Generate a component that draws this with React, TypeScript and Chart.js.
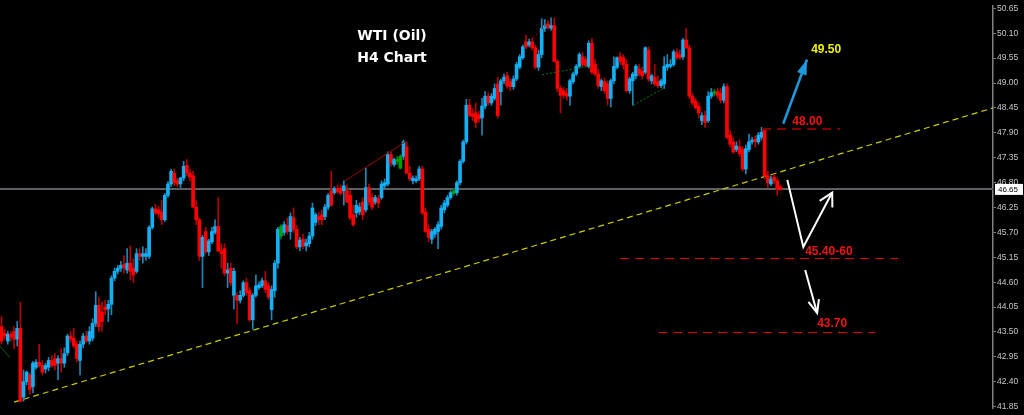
import React, { useEffect, useRef } from "react";
import { Chart, registerables } from "chart.js";
Chart.register(...registerables);

// ---- OHLC data (H4 candles) ----
const opens = [
  43.62, 43.47, 43.30, 43.45, 43.51, 43.34, 43.58, 42.06, 42.40, 42.55,
  42.29, 42.72, 42.83, 42.76, 42.68, 42.72, 42.87, 42.91, 42.81, 42.91,
  42.81, 43.04, 43.41, 43.36, 43.23, 42.87, 43.23, 43.41, 43.30, 43.36,
  43.69, 44.09, 43.94, 44.05, 44.01, 44.11, 44.69, 44.84, 44.91, 44.99,
  44.87, 45.02, 44.91, 44.84, 45.23, 45.17, 45.17, 45.17, 45.81, 46.22,
  46.20, 46.15, 45.98, 46.52, 46.77, 47.01, 46.84, 46.77, 46.90, 47.18,
  47.01, 46.95, 46.26, 45.98, 45.17, 45.72, 45.27, 45.49, 45.70, 45.83,
  45.29, 45.34, 44.80, 44.91, 44.31, 44.31, 44.20, 44.31, 44.59, 44.41,
  43.77, 44.31, 44.48, 44.52, 44.63, 44.52, 43.99, 44.41, 45.02, 45.62,
  45.70, 45.85, 45.72, 46.02, 45.77, 45.38, 45.55, 45.40, 45.45, 45.62,
  45.92, 46.05, 46.09, 46.05, 46.26, 46.62, 46.58, 46.67, 46.67, 46.62,
  46.62, 46.52, 46.09, 46.13, 46.15, 46.37, 46.20, 46.69, 46.47, 46.37,
  46.45, 46.47, 46.73, 46.77, 47.42, 47.20, 47.27, 47.12, 47.38, 47.59,
  47.01, 46.84, 46.84, 46.88, 47.10, 46.15, 45.77, 45.55, 45.66, 45.72,
  45.83, 46.20, 46.30, 46.47, 46.56, 46.58, 46.80, 47.27, 47.70, 48.51,
  48.32, 48.34, 48.30, 48.23, 48.49, 48.71, 48.56, 48.66, 48.98, 48.81,
  49.05, 49.16, 49.03, 48.92, 49.09, 49.35, 49.56, 49.91, 49.84, 49.91,
  49.78, 49.35, 49.63, 50.21, 50.31, 50.21, 50.27, 49.48, 48.88, 48.83,
  48.77, 48.71, 49.03, 49.20, 49.37, 49.58, 49.52, 49.37, 49.88, 49.41,
  49.20, 48.92, 49.03, 48.98, 48.66, 49.05, 49.35, 49.58, 49.56, 49.41,
  48.83, 49.05, 49.16, 49.31, 49.26, 49.24, 49.73, 49.05, 49.13, 49.03,
  48.94, 48.98, 49.35, 49.37, 49.41, 49.67, 49.63, 49.58, 49.95, 49.78,
  48.71, 48.60, 48.49, 48.17, 48.28, 48.17, 48.71, 48.77, 48.81, 48.77,
  48.62, 48.92, 47.85, 47.70, 47.53, 47.59, 47.53, 47.10, 47.53, 47.70,
  47.76, 47.70, 47.80, 47.95, 46.95, 46.77, 46.92, 46.84, 46.71,
];
const highs = [
  43.84, 43.56, 43.51, 43.51, 43.62, 43.73, 44.16, 42.66, 42.64, 42.59,
  42.85, 42.89, 43.23, 42.87, 42.81, 42.94, 42.98, 43.02, 42.98, 43.13,
  43.15, 43.45, 43.51, 43.58, 43.30, 43.30, 43.47, 43.51, 43.62, 43.79,
  44.39, 44.27, 44.16, 44.20, 44.20, 44.74, 44.91, 44.97, 45.06, 45.19,
  45.34, 45.40, 45.12, 45.34, 45.34, 45.38, 45.34, 45.85, 46.26, 46.32,
  46.28, 46.41, 46.56, 46.82, 47.10, 47.10, 46.90, 46.92, 47.27, 47.31,
  47.10, 47.05, 46.41, 46.02, 45.64, 45.81, 45.55, 45.81, 45.98, 46.47,
  45.45, 45.45, 45.02, 45.02, 44.91, 44.37, 44.41, 44.63, 44.69, 44.48,
  44.35, 44.76, 44.61, 44.69, 44.84, 44.59, 44.52, 45.08, 45.81, 45.87,
  45.94, 46.02, 46.13, 46.24, 45.85, 45.59, 45.66, 45.55, 45.70, 46.35,
  46.13, 46.15, 46.20, 46.32, 46.56, 47.05, 46.71, 46.75, 46.75, 46.84,
  46.75, 46.62, 46.30, 46.41, 46.35, 46.47, 47.12, 46.77, 46.56, 46.52,
  46.52, 46.84, 46.88, 47.48, 47.48, 47.35, 47.38, 47.42, 47.74, 47.70,
  47.16, 46.95, 46.95, 47.16, 47.16, 46.24, 45.87, 45.77, 45.81, 45.94,
  46.30, 46.41, 46.52, 46.62, 46.67, 46.84, 47.31, 47.74, 48.64, 48.64,
  48.43, 48.56, 48.38, 48.66, 48.81, 48.79, 48.77, 48.98, 49.13, 49.09,
  49.20, 49.24, 49.09, 49.16, 49.46, 49.63, 49.84, 50.06, 49.97, 49.99,
  49.84, 49.73, 50.42, 50.40, 50.38, 50.44, 50.44, 49.52, 48.94, 48.90,
  48.88, 49.09, 49.24, 49.41, 49.67, 49.67, 49.58, 49.93, 49.99, 49.52,
  49.31, 49.09, 49.11, 49.05, 49.09, 49.58, 49.58, 49.67, 49.63, 49.52,
  49.13, 49.24, 49.41, 49.41, 49.35, 49.80, 49.80, 49.20, 49.41, 49.16,
  49.09, 49.58, 49.63, 49.52, 49.73, 49.76, 49.73, 49.99, 50.21, 49.84,
  48.77, 48.66, 48.56, 48.34, 48.38, 48.81, 48.88, 48.86, 48.88, 48.88,
  48.98, 48.98, 47.95, 47.80, 47.70, 47.74, 47.59, 47.63, 47.87, 47.80,
  47.83, 47.91, 48.02, 48.00, 47.05, 46.95, 46.99, 46.90, 46.75,
];
const lows = [
  43.23, 43.34, 43.23, 43.30, 43.13, 43.19, 41.95, 41.97, 42.33, 42.12,
  42.16, 42.68, 42.72, 42.55, 42.59, 42.64, 42.72, 42.66, 42.44, 42.61,
  42.72, 42.98, 43.28, 43.15, 42.83, 42.55, 43.15, 43.26, 43.23, 43.30,
  43.62, 43.51, 43.51, 43.88, 43.73, 43.88, 44.63, 44.78, 44.84, 44.80,
  44.80, 44.65, 44.59, 44.80, 45.08, 45.02, 45.08, 45.12, 45.77, 46.09,
  46.02, 45.87, 45.94, 46.47, 46.71, 46.73, 46.71, 46.69, 46.84, 46.95,
  46.84, 46.24, 45.87, 45.08, 44.48, 45.23, 45.19, 45.45, 45.66, 45.27,
  44.91, 44.74, 44.48, 44.52, 44.01, 43.69, 44.14, 44.27, 44.31, 43.73,
  43.56, 44.27, 44.44, 44.48, 44.37, 44.22, 43.77, 44.27, 44.91, 45.55,
  45.64, 45.66, 45.55, 45.70, 45.34, 45.29, 45.34, 45.29, 45.38, 45.55,
  45.85, 45.87, 45.87, 45.98, 46.20, 46.28, 46.54, 46.56, 46.52, 46.30,
  46.35, 45.98, 45.83, 46.03, 46.09, 45.98, 46.15, 46.30, 46.20, 46.32,
  46.24, 46.43, 46.67, 46.73, 47.16, 47.16, 47.20, 47.10, 47.31, 46.99,
  46.84, 46.77, 46.80, 46.84, 46.09, 45.70, 45.49, 45.45, 45.59, 45.34,
  45.77, 46.13, 46.26, 46.43, 46.52, 46.52, 46.75, 47.23, 47.65, 48.26,
  48.17, 48.02, 48.13, 47.85, 48.43, 48.51, 48.51, 48.62, 48.23, 48.51,
  48.98, 48.88, 48.83, 48.86, 49.05, 49.31, 49.52, 49.76, 49.80, 49.73,
  49.31, 49.28, 49.56, 50.14, 50.19, 50.16, 49.46, 48.81, 48.34, 48.66,
  48.62, 48.51, 48.98, 49.16, 49.33, 49.37, 49.35, 49.33, 49.20, 49.16,
  48.88, 48.83, 48.77, 48.51, 48.47, 48.98, 49.31, 49.41, 49.31, 48.79,
  48.77, 48.51, 49.09, 49.16, 49.09, 49.20, 49.03, 48.98, 48.94, 48.90,
  48.90, 48.88, 49.28, 49.33, 49.37, 49.52, 49.52, 49.52, 49.76, 48.66,
  48.51, 48.43, 48.23, 48.08, 48.02, 48.13, 48.66, 48.71, 48.66, 48.56,
  48.56, 47.76, 47.59, 47.44, 47.48, 47.38, 47.05, 46.99, 47.48, 47.65,
  47.59, 47.65, 47.74, 46.88, 46.69, 46.73, 46.77, 46.52, 46.62,
];
const closes = [
  43.30, 43.41, 43.45, 43.39, 43.34, 43.58, 41.97, 42.40, 42.61, 42.23,
  42.81, 42.83, 42.76, 42.61, 42.76, 42.87, 42.76, 42.76, 42.91, 42.81,
  43.02, 43.41, 43.34, 43.19, 42.91, 43.23, 43.41, 43.30, 43.51, 43.69,
  44.09, 43.62, 43.73, 43.99, 44.11, 44.69, 44.84, 44.91, 44.97, 44.91,
  45.02, 44.84, 44.76, 45.23, 45.17, 45.23, 45.23, 45.81, 46.22, 46.13,
  46.11, 45.98, 46.52, 46.77, 47.05, 46.80, 46.77, 46.90, 47.16, 47.01,
  46.92, 46.26, 45.98, 45.17, 45.59, 45.27, 45.51, 45.72, 45.83, 45.29,
  45.23, 44.80, 44.87, 44.59, 44.84, 44.20, 44.31, 44.59, 44.37, 43.77,
  44.31, 44.52, 44.54, 44.63, 44.44, 44.27, 44.44, 45.02, 45.77, 45.83,
  45.87, 45.72, 46.05, 45.77, 45.38, 45.53, 45.40, 45.47, 45.62, 46.24,
  46.09, 45.98, 45.98, 46.26, 46.52, 46.30, 46.67, 46.60, 46.56, 46.73,
  46.37, 46.02, 45.87, 46.30, 46.26, 46.09, 46.69, 46.37, 46.26, 46.47,
  46.35, 46.77, 46.80, 47.42, 47.23, 47.31, 47.31, 47.38, 47.70, 47.01,
  46.88, 46.90, 46.88, 47.10, 46.13, 45.72, 45.59, 45.72, 45.77, 45.87,
  46.24, 46.35, 46.47, 46.58, 46.62, 46.80, 47.27, 47.70, 48.51, 48.28,
  48.26, 48.13, 48.21, 48.49, 48.71, 48.56, 48.71, 48.88, 48.28, 49.05,
  49.13, 48.94, 48.92, 49.09, 49.41, 49.58, 49.80, 49.80, 49.91, 49.78,
  49.35, 49.63, 50.21, 50.27, 50.23, 50.27, 49.48, 48.88, 48.73, 48.73,
  48.71, 49.05, 49.20, 49.37, 49.63, 49.41, 49.39, 49.88, 49.24, 49.20,
  48.94, 49.05, 48.83, 48.66, 49.05, 49.37, 49.56, 49.48, 49.41, 48.83,
  49.09, 49.20, 49.37, 49.20, 49.16, 49.78, 49.09, 49.16, 48.98, 48.94,
  49.05, 49.37, 49.41, 49.41, 49.69, 49.56, 49.56, 49.95, 49.78, 48.71,
  48.56, 48.45, 48.34, 48.28, 48.13, 48.71, 48.79, 48.81, 48.73, 48.62,
  48.92, 47.80, 47.65, 47.48, 47.61, 47.44, 47.10, 47.55, 47.70, 47.74,
  47.70, 47.85, 47.91, 46.95, 46.80, 46.88, 46.84, 46.67, 46.65,
];
const greenCandles = [89, 126, 127, 144, 227];

// ---- axis ----
const yTicks = [50.65, 50.10, 49.55, 49.00, 48.45, 47.90, 47.35, 46.80, 46.25, 45.70, 45.15, 44.60, 44.05, 43.50, 42.95, 42.40, 41.85];
const yMin = 41.80;
const yMax = 50.70;
const xMin = -0.48;
const xMax = 315.7;
const currentPrice = 46.65;

// ---- drawn objects (bar index, price) ----
const trendLine = [{ x: 4.0, y: 41.95 }, { x: 315.7, y: 48.45 }];
const levelPrices = [47.98, 45.13, 43.51];
const levelStarts = [242.2, 197.0, 209.1];
const levelEnds = [267.0, 285.5, 278.2];
const levelLabels = ["48.00", "45.40-60", "43.70"];
const levelLabelAt = [[251.8, 48.14], [255.9, 45.27], [259.7, 43.69]];
const targetLabel = "49.50";
const targetLabelAt = [257.8, 49.73];
const blueArrow = [[248.9, 48.10], [256.5, 49.52]];
const whiteArrowUp = [[250.2, 46.86], [255.3, 45.38], [264.5, 46.58]];
const whiteArrowDown = [[255.9, 44.87], [259.7, 43.92]];
const redTrend = [[109.4, 46.84], [128.5, 47.70]];
const redDotted = [[169.3, 49.99], [174.1, 50.34]];
const greenDotted1 = [[172.1, 49.18], [186.5, 49.37]];
const greenDotted2 = [[201.1, 48.51], [210.7, 48.88]];
const greenSolid = [[-0.48, 43.19], [2.7, 42.93]];
const titleLines = ["WTI (Oil)", "H4 Chart"];

function toPx(chart: any, p: number[]) {
  return [chart.scales.x.getPixelForValue(p[0]), chart.scales.y.getPixelForValue(p[1])];
}

function polyline(ctx: CanvasRenderingContext2D, chart: any, pts: number[][], color: string, width: number, dash: number[], snap = false) {
  ctx.save();
  ctx.strokeStyle = color;
  ctx.lineWidth = width;
  ctx.setLineDash(dash);
  ctx.lineJoin = "miter";
  ctx.beginPath();
  pts.forEach((p, i) => {
    let [x, y] = toPx(chart, p);
    if (snap) y = Math.round(y) + (width % 2 === 1 ? 0.5 : 0);
    if (i === 0) ctx.moveTo(x, y);
    else ctx.lineTo(x, y);
  });
  ctx.stroke();
  ctx.restore();
}

function arrowHead(ctx: CanvasRenderingContext2D, chart: any, from: number[], to: number[], color: string, width: number, len: number, angle: number, filled: boolean) {
  const [x1, y1] = toPx(chart, from);
  const [x2, y2] = toPx(chart, to);
  const a = Math.atan2(y1 - y2, x1 - x2);
  const p1 = [x2 + len * Math.cos(a + angle), y2 + len * Math.sin(a + angle)];
  const p2 = [x2 + len * Math.cos(a - angle), y2 + len * Math.sin(a - angle)];
  ctx.save();
  ctx.strokeStyle = color;
  ctx.fillStyle = color;
  ctx.lineWidth = width;
  ctx.setLineDash([]);
  ctx.beginPath();
  if (filled) {
    ctx.moveTo(x2, y2);
    ctx.lineTo(p1[0], p1[1]);
    ctx.lineTo(p2[0], p2[1]);
    ctx.closePath();
    ctx.fill();
  } else {
    ctx.moveTo(p1[0], p1[1]);
    ctx.lineTo(x2, y2);
    ctx.lineTo(p2[0], p2[1]);
    ctx.stroke();
  }
  ctx.restore();
}

const overlayPlugin = {
  id: "overlay",
  beforeDraw(chart: any) {
    const ctx = chart.ctx;
    ctx.save();
    ctx.fillStyle = "#000000";
    ctx.fillRect(0, 0, chart.width, chart.height);
    ctx.restore();
  },
  beforeDatasetsDraw(chart: any) {
    const ctx = chart.ctx;
    const y = Math.round(chart.scales.y.getPixelForValue(currentPrice));
    ctx.save();
    ctx.strokeStyle = "#5c6064";
    ctx.lineWidth = 2;
    ctx.beginPath();
    ctx.moveTo(0, y);
    ctx.lineTo(chart.chartArea.right, y);
    ctx.stroke();
    ctx.restore();
  },
  afterDatasetsDraw(chart: any) {
    const ctx: CanvasRenderingContext2D = chart.ctx;
    // small drawn trend objects
    polyline(ctx, chart, redTrend, "#a00000", 1, []);
    polyline(ctx, chart, redDotted, "#c00000", 1, [2, 2]);
    polyline(ctx, chart, greenDotted1, "#008000", 1, [2, 2]);
    polyline(ctx, chart, greenDotted2, "#008000", 1, [2, 2]);
    polyline(ctx, chart, greenSolid, "#006400", 1, []);

    // levels
    const levelColors = ["#800000", "#e00000", "#e00000"];
    const levelWidths = [2, 1, 1];
    levelPrices.forEach((p, i) => {
      polyline(ctx, chart, [[levelStarts[i], p], [levelEnds[i], p]], levelColors[i], levelWidths[i], [9, 6], true);
    });

    // arrows
    polyline(ctx, chart, blueArrow, "#1e98de", 2.5, []);
    arrowHead(ctx, chart, blueArrow[0], blueArrow[1], "#1e98de", 2, 16, 0.32, true);
    polyline(ctx, chart, whiteArrowUp, "#ffffff", 2, []);
    arrowHead(ctx, chart, whiteArrowUp[1], whiteArrowUp[2], "#ffffff", 2, 15, 0.5, false);
    polyline(ctx, chart, whiteArrowDown, "#ffffff", 2, []);
    arrowHead(ctx, chart, whiteArrowDown[0], whiteArrowDown[1], "#ffffff", 2, 14, 0.4, false);

    // labels
    ctx.save();
    ctx.font = "bold 12px 'Liberation Sans', Arial, sans-serif";
    ctx.textAlign = "left";
    ctx.textBaseline = "middle";
    levelLabels.forEach((t, i) => {
      const [x, y] = toPx(chart, levelLabelAt[i]);
      ctx.fillStyle = "#f01414";
      ctx.fillText(t, x, y);
    });
    {
      const [x, y] = toPx(chart, targetLabelAt);
      ctx.fillStyle = "#f0f000";
      ctx.fillText(targetLabel, x, y);
    }
    // title
    ctx.font = "bold 14px 'DejaVu Sans', Verdana, sans-serif";
    ctx.textAlign = "center";
    ctx.fillStyle = "#ffffff";
    ctx.fillText(titleLines[0], 392, 36);
    ctx.fillText(titleLines[1], 392, 58);
    ctx.restore();
  },
  afterDraw(chart: any) {
    const ctx: CanvasRenderingContext2D = chart.ctx;
    const y = chart.scales.y.getPixelForValue(currentPrice);
    const x0 = chart.chartArea.right + 2;
    ctx.save();
    ctx.fillStyle = "#ffffff";
    ctx.fillRect(x0, y - 5.5, 28, 11);
    ctx.fillStyle = "#000000";
    ctx.font = "8px 'Liberation Sans', Arial, sans-serif";
    ctx.textAlign = "left";
    ctx.textBaseline = "middle";
    ctx.fillText(currentPrice.toFixed(2), x0 + 3, y + 0.5);
    ctx.restore();
  },
};

export default function App() {
  const ref = useRef<HTMLCanvasElement | null>(null);
  useEffect(() => {
    document.body.style.margin = "0";
    document.body.style.background = "#000";
    const idx = closes.map((_, i) => i);
    const isBull = (i: number) => closes[i] >= opens[i];
    const bodyColors = idx.map((i) => (greenCandles.includes(i) ? "#00a000" : isBull(i) ? "#12b0f4" : "#ff0000"));
    const wickColors = idx.map((i) => (greenCandles.includes(i) ? "#007800" : isBull(i) ? "#1f86b8" : "#b80000"));
    const chart = new Chart(ref.current as HTMLCanvasElement, {
      type: "bar",
      data: {
        datasets: [
          {
            type: "bar",
            data: idx.map((i) => ({ x: i, y: [opens[i], closes[i]] })) as any,
            backgroundColor: bodyColors,
            borderWidth: 0,
            barThickness: 3,
            minBarLength: 1,
            grouped: false,
            order: 0,
          } as any,
          {
            type: "bar",
            data: idx.map((i) => ({ x: i, y: [lows[i], highs[i]] })) as any,
            backgroundColor: wickColors,
            borderWidth: 0,
            barThickness: 1,
            grouped: false,
            order: 1,
          } as any,
          {
            type: "line",
            data: trendLine as any,
            borderColor: "#cccc00",
            borderWidth: 1.2,
            borderDash: [6, 4],
            pointRadius: 0,
            fill: false,
            order: 2,
          } as any,
        ],
      },
      options: {
        animation: false,
        responsive: true,
        maintainAspectRatio: false,
        layout: { padding: 0, autoPadding: false } as any,
        plugins: { legend: { display: false }, tooltip: { enabled: false }, title: { display: false } },
        scales: {
          x: {
            type: "linear",
            display: false,
            min: xMin,
            max: xMax,
            offset: false,
            grid: { display: false },
          },
          y: {
            type: "linear",
            position: "right",
            min: yMin,
            max: yMax,
            afterBuildTicks: (s: any) => {
              s.ticks = yTicks.map((v) => ({ value: v }));
            },
            afterFit: (s: any) => {
              s.width = 31;
            },
            ticks: {
              color: "#c8c8c8",
              font: { family: "'Liberation Sans', Arial, sans-serif", size: 8.5 },
              padding: 1,
              autoSkip: false,
              callback: (v: any) => Number(v).toFixed(2),
            },
            grid: { drawOnChartArea: false, drawTicks: true, tickLength: 3, color: "#808080" },
            border: { color: "#808080", width: 1.5 },
          } as any,
        },
      },
      plugins: [overlayPlugin],
    });
    return () => chart.destroy();
  }, []);
  return (
    <div style={{ width: 1024, height: 415, position: "relative", background: "#000" }}>
      <canvas ref={ref} />
    </div>
  );
}
